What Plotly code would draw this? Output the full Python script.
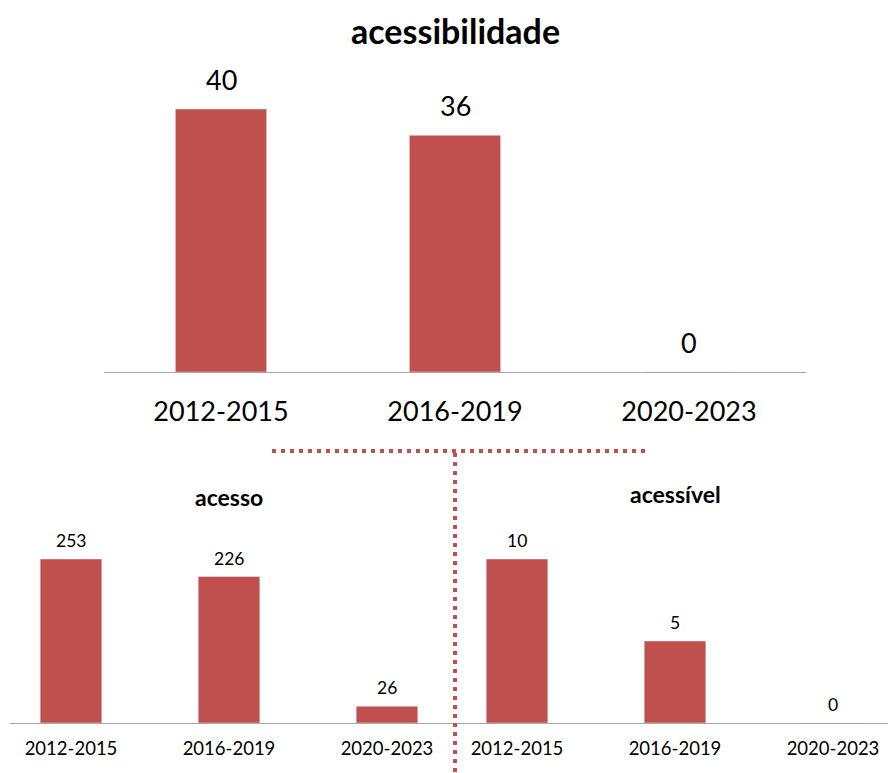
import plotly.graph_objects as go

periods = ["2012-2015", "2016-2019", "2020-2023"]
acessibilidade = [40, 36, 0]
acesso = [253, 226, 26]
acessivel = [10, 5, 0]

BAR = "#C0504D"
FONT = "Lato"
W, H = 888, 773

def py(px):
    return 1 - px / H

def px_x(px):
    return px / W

fig = go.Figure()

panels = [
    # values, xaxis, yaxis, label size, label shift
    (acessibilidade, "x", "y", 27, 11),
    (acesso, "x2", "y2", 17.5, 6),
    (acessivel, "x3", "y3", 17.5, 6),
]

for vals, xa, ya, *_ in panels:
    fig.add_trace(go.Bar(x=periods, y=vals, xaxis=xa, yaxis=ya, marker_color=BAR,
                         width=0.39, showlegend=False, hoverinfo="skip"))

annotations = []
for vals, xa, ya, lsize, shift in panels:
    for p, v in zip(periods, vals):
        annotations.append(dict(x=p, y=v, xref=xa, yref=ya, text=str(v), showarrow=False,
                                yanchor="bottom", yshift=shift,
                                font=dict(family=FONT, size=lsize, color="#000000")))

annotations.append(dict(x=px_x(455), y=py(31), xref="paper", yref="paper", text="<b>acessibilidade</b>",
                        showarrow=False, xanchor="center", yanchor="middle",
                        font=dict(family=FONT, size=34, color="#000000")))
annotations.append(dict(x=px_x(229), y=py(497), xref="paper", yref="paper", text="<b>acesso</b>",
                        showarrow=False, xanchor="center", yanchor="middle",
                        font=dict(family=FONT, size=23, color="#000000")))
annotations.append(dict(x=px_x(675), y=py(494), xref="paper", yref="paper", text="<b>acessível</b>",
                        showarrow=False, xanchor="center", yanchor="middle",
                        font=dict(family=FONT, size=23, color="#000000")))

axis_common = dict(showgrid=False, zeroline=False, showline=True, linecolor="#A6A6A6",
                   linewidth=1, ticks="outside", tickcolor="rgba(0,0,0,0)", fixedrange=True)
yaxis_common = dict(visible=False, fixedrange=True)

fig.update_layout(
    width=W, height=H, margin=dict(l=0, r=0, t=0, b=0),
    paper_bgcolor="white", plot_bgcolor="white",
    font=dict(family=FONT, color="#000000"),
    xaxis=dict(domain=[px_x(104), px_x(806)], range=[-0.5, 2.5], anchor="y",
               ticklen=16, tickfont=dict(size=27, family=FONT), **axis_common),
    yaxis=dict(domain=[py(372), py(60)], range=[0, 312 / 6.575], anchor="x", **yaxis_common),
    xaxis2=dict(domain=[px_x(10), px_x(452)], range=[(10 - 71) / 158, (452 - 71) / 158], anchor="y2",
                ticklen=9, tickfont=dict(size=18.5, family=FONT), **axis_common),
    yaxis2=dict(domain=[py(723), py(530)], range=[0, 193 / 0.648], anchor="x2", **yaxis_common),
    xaxis3=dict(domain=[px_x(452), 1], range=[(452 - 517) / 158, (888 - 517) / 158], anchor="y3",
                ticklen=9, tickfont=dict(size=18.5, family=FONT), **axis_common),
    yaxis3=dict(domain=[py(723), py(530)], range=[0, 193 / 16.4], anchor="x3", **yaxis_common),
    annotations=annotations,
    shapes=[
        dict(type="line", xref="paper", yref="paper", x0=px_x(272), x1=px_x(646), y0=py(451), y1=py(451),
             line=dict(color=BAR, width=4, dash="4px,5px")),
        dict(type="line", xref="paper", yref="paper", x0=px_x(455), x1=px_x(455), y0=py(453), y1=0,
             line=dict(color=BAR, width=4, dash="4px,5px")),
    ],
)

fig.write_html("out.html")
